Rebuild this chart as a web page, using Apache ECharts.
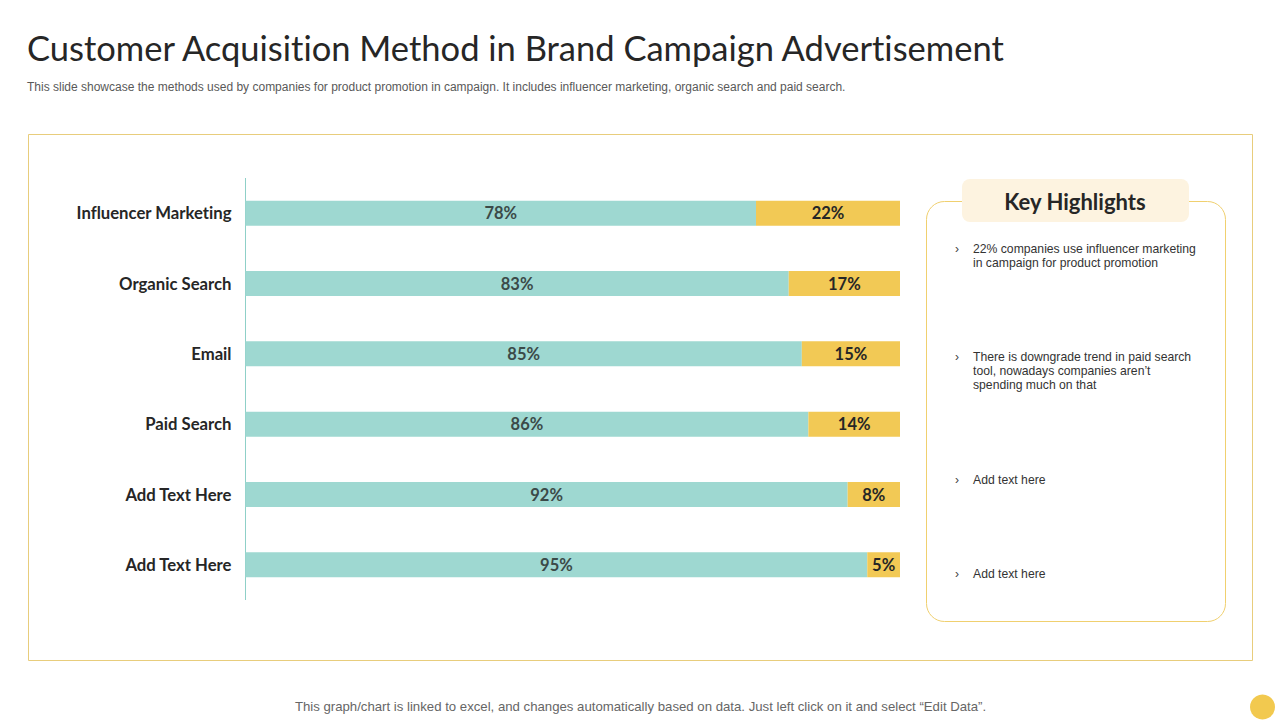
<!DOCTYPE html>
<html>
<head>
<meta charset="utf-8">
<style>
html, body { margin: 0; padding: 0; background: #fff; }
#chart { width: 1280px; height: 720px; }
#chart text { font-variant-ligatures: none !important; }
</style>
<script src="https://cdn.jsdelivr.net/npm/echarts@6/dist/echarts.min.js"></script>
</head>
<body>
<div id="chart"></div>
<script>
var categories = ['Influencer Marketing', 'Organic Search', 'Email', 'Paid Search', 'Add Text Here', 'Add Text Here'];
var tealValues = [78, 83, 85, 86, 92, 95];
var yellowValues = [22, 17, 15, 14, 8, 5];

var titleText = 'Customer Acquisition Method in Brand Campaign Advertisement';
var subtitleText = 'This slide showcase the methods used by companies for product promotion in campaign. It includes influencer marketing, organic search and paid search.';
var footerText = 'This graph/chart is linked to excel, and changes automatically based on data. Just left click on it and select \u201CEdit Data\u201D.';
var highlightsTitle = 'Key Highlights';
var highlights = [
    { y: 249, lines: '22% companies use influencer marketing\nin campaign for product promotion' },
    { y: 357, lines: 'There is downgrade trend in paid search\ntool, nowadays companies aren\u2019t\nspending much on that' },
    { y: 480, lines: 'Add text here' },
    { y: 574, lines: 'Add text here' }
];

// svg renderer so the css above can switch off the Lato ligatures
var chart = echarts.init(document.getElementById('chart'), null, { renderer: 'svg' });

//frames and text around the chart
var graphics = [
    { type: 'rect', shape: { x: 28.5, y: 134.5, width: 1224, height: 526 }, style: { fill: 'none', stroke: '#e8cd7c', lineWidth: 1 } },
    { type: 'rect', shape: { x: 926.5, y: 201.5, width: 299, height: 420, r: 18 }, style: { fill: '#fff', stroke: '#f0d06f', lineWidth: 1 } },
    { type: 'rect', shape: { x: 962, y: 179, width: 227, height: 43, r: 8 }, style: { fill: '#fdf3e0' } },
    { type: 'text', style: { x: 1075, y: 201, text: highlightsTitle, align: 'center', verticalAlign: 'middle', font: 'bold 22px Lato', fill: '#262626' } },
    { type: 'text', style: { x: 27, y: 47, text: titleText, verticalAlign: 'middle', font: '34.5px Lato', fill: '#262626' } },
    { type: 'text', style: { x: 27, y: 87, text: subtitleText, verticalAlign: 'middle', font: '12px "Liberation Sans"', fill: '#595959' } },
    { type: 'text', style: { x: 640.5, y: 706, text: footerText, align: 'center', verticalAlign: 'middle', font: '13.2px "Liberation Sans"', fill: '#666' } },
    { type: 'circle', shape: { cx: 1262.5, cy: 707, r: 12.5 }, style: { fill: '#f2c94f' } },
    { type: 'line', shape: { x1: 245.5, y1: 178, x2: 245.5, y2: 600 }, style: { stroke: '#8fd0c8', lineWidth: 1 } }
];

highlights.forEach(function (item) {
    graphics.push({ type: 'text', style: { x: 955, y: item.y, text: '\u203A', verticalAlign: 'middle', font: '12px "Liberation Sans"', fill: '#404040' } });
    graphics.push({ type: 'text', style: { x: 973, y: item.y - 7, text: item.lines, lineHeight: 14, font: '12.2px "Liberation Sans"', fill: '#333' } });
});

var option = {
    animation: false,
    backgroundColor: '#fff',
    grid: { left: 245.5, top: 178, width: 654.5, height: 422, containLabel: false },
    xAxis: { type: 'value', min: 0, max: 100, show: false, splitLine: { show: false } },
    yAxis: {
        type: 'category',
        inverse: true,
        data: categories,
        splitLine: { show: false },
        axisLine: { show: false },
        axisTick: { show: false },
        axisLabel: { margin: 14, padding: [0, 0, 2, 0], color: '#262626', fontFamily: 'Lato', fontWeight: 'bold', fontSize: 16.7 }
    },
    series: [
        {
            name: 'Teal',
            type: 'bar',
            stack: 'share',
            barWidth: 25,
            itemStyle: { color: '#9ed8d1' },
            label: { show: true, position: 'inside', formatter: '{c}%', color: '#3b4a48', fontFamily: 'Lato', fontWeight: 'bold', fontSize: 16.5 },
            data: tealValues
        },
        {
            name: 'Yellow',
            type: 'bar',
            stack: 'share',
            barWidth: 25,
            itemStyle: { color: '#f2c955' },
            label: { show: true, position: 'inside', formatter: '{c}%', color: '#262626', fontFamily: 'Lato', fontWeight: 'bold', fontSize: 16.5 },
            data: yellowValues
        }
    ],
    graphic: { elements: graphics }
};

chart.setOption(option);
</script>
</body>
</html>
